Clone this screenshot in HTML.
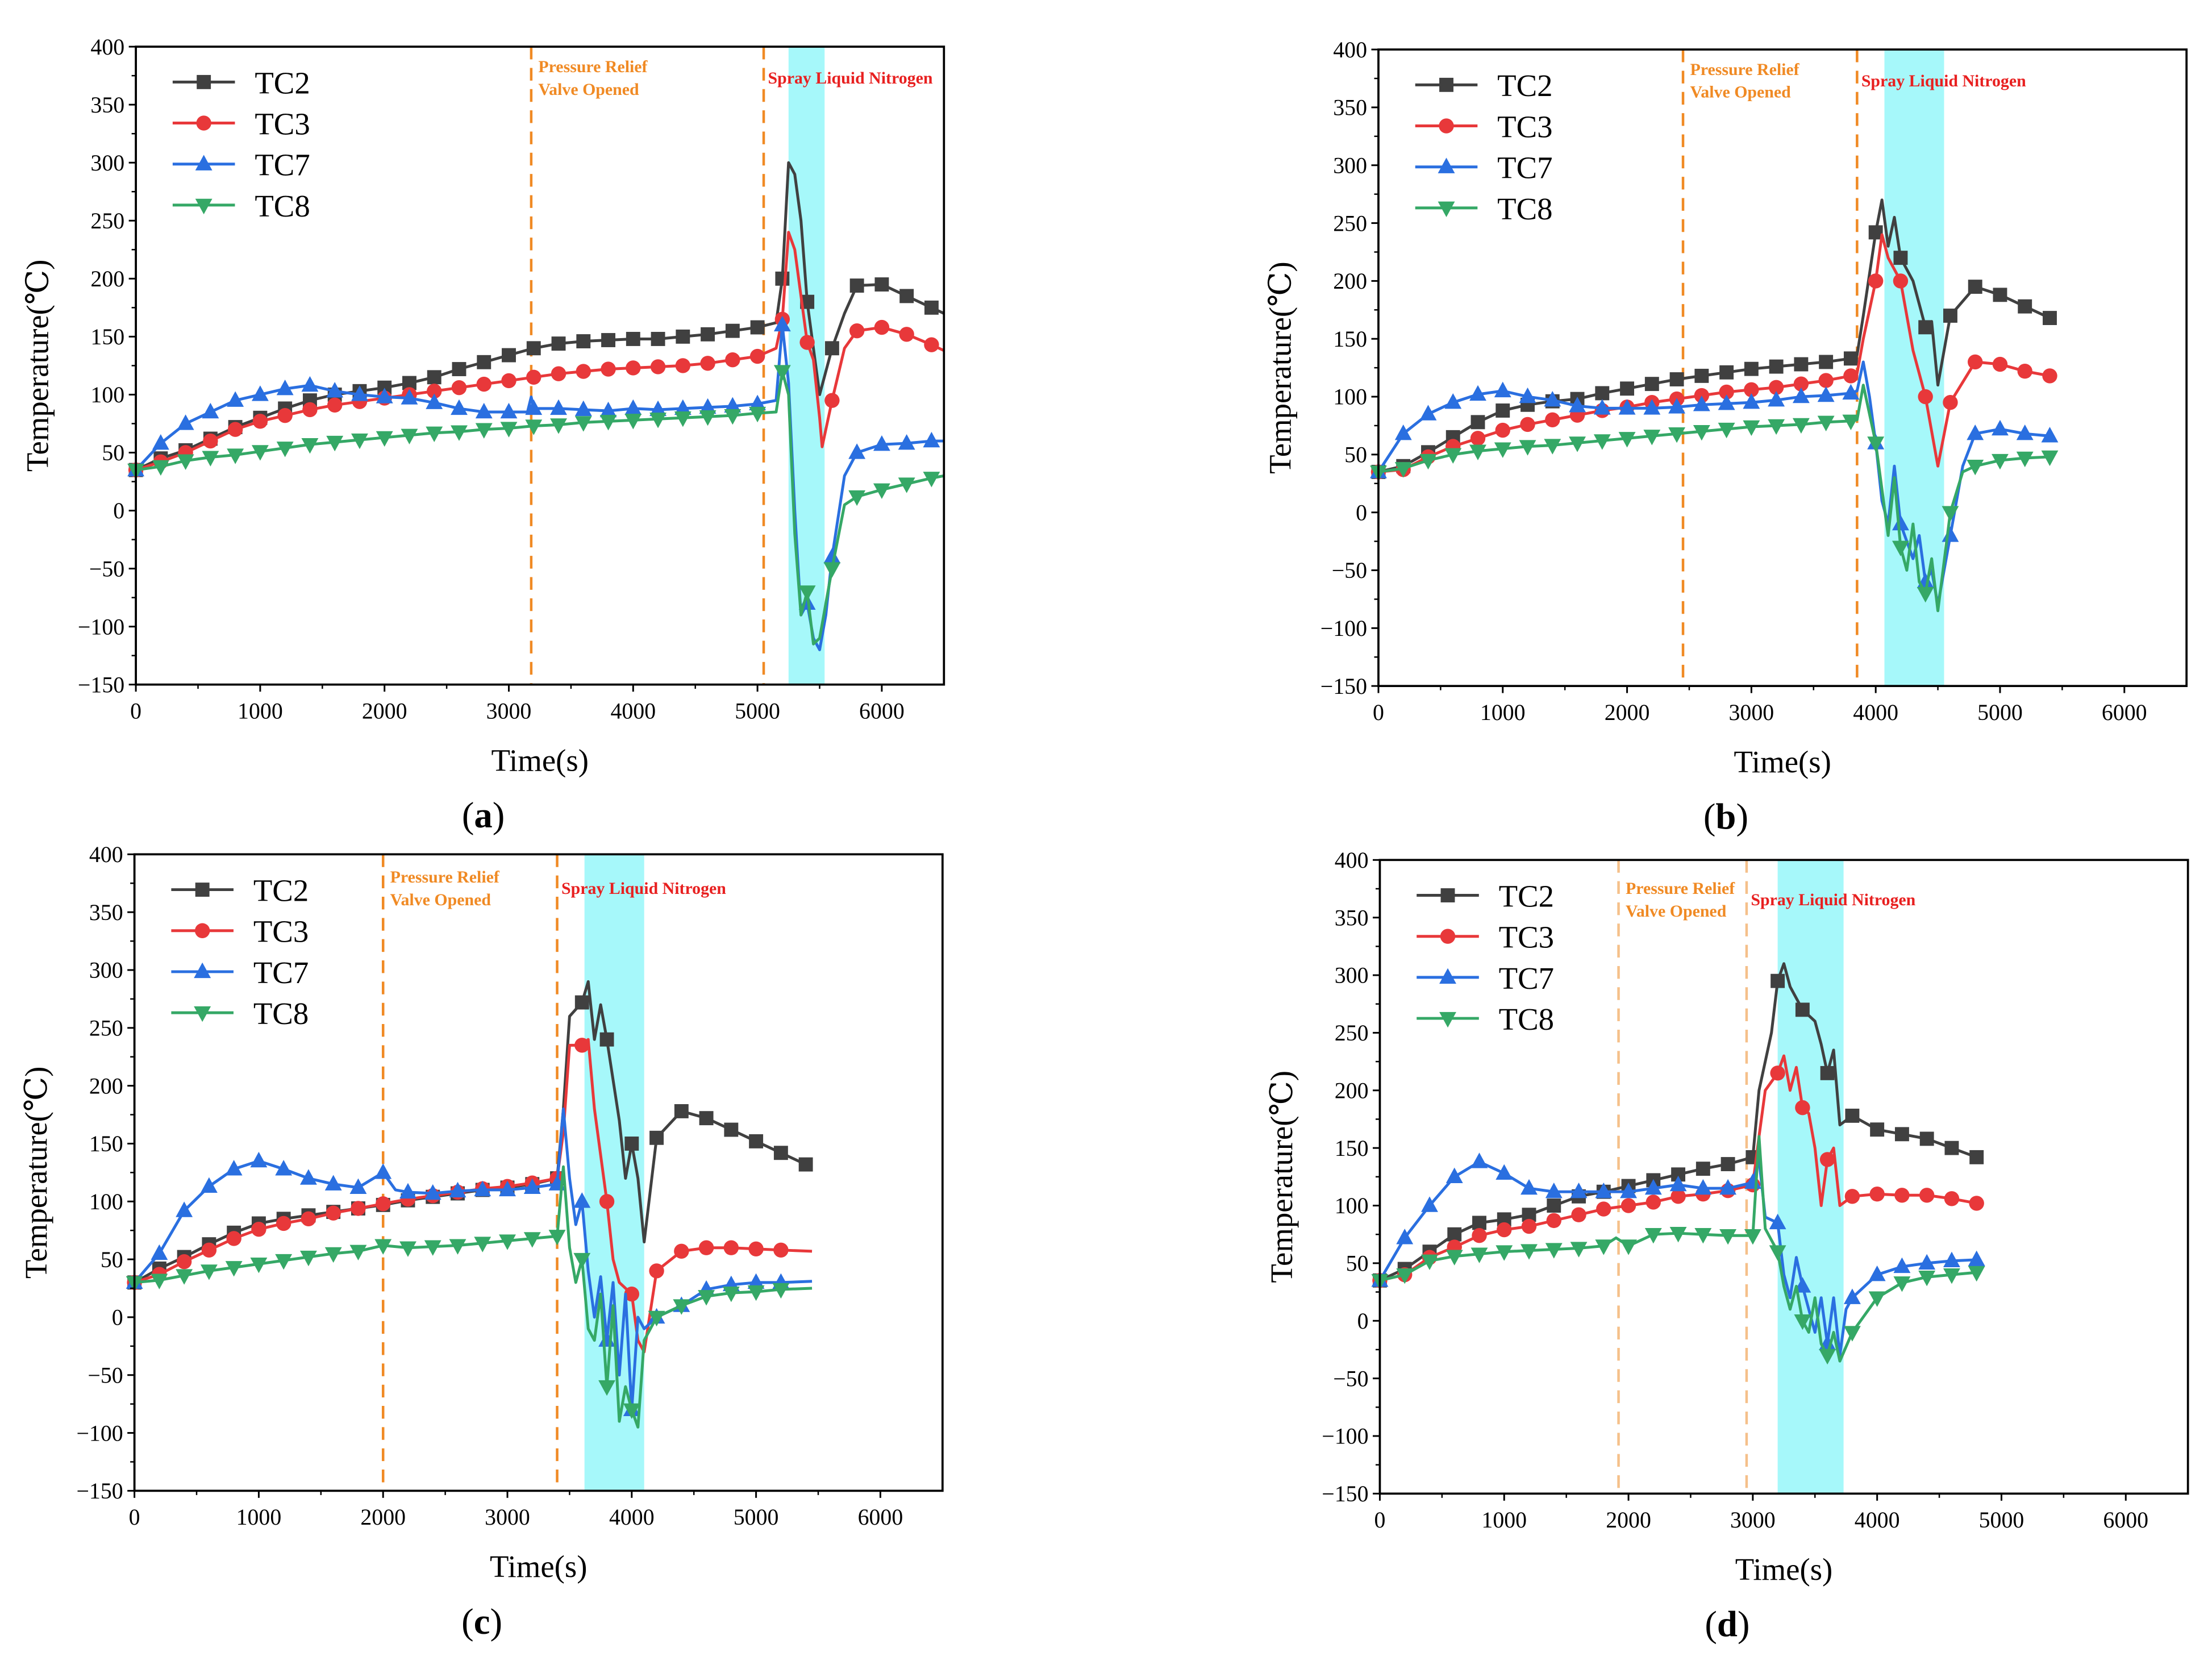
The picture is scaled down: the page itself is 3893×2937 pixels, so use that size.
<!DOCTYPE html>
<html><head><meta charset="utf-8"><style>
html,body{margin:0;padding:0;background:#fff;}
svg{display:block;}
svg text{font-family:"Liberation Serif","DejaVu Serif",serif;}
</style></head><body>
<svg id="fig" width="3893" height="2937" viewBox="0 0 1563 1180" preserveAspectRatio="none" xmlns="http://www.w3.org/2000/svg"></svg>
<script>
const seriesNames=["TC2","TC3","TC7","TC8"];
const xTicks=[0,1000,2000,3000,4000,5000,6000];
const yTicks=[-150,-100,-50,0,50,100,150,200,250,300,350,400];
// panel a
const aTC2=[[0,35],[200,45],[400,52],[600,62],[800,72],[1000,80],[1200,88],[1400,95],[1600,100],[1800,103],[2000,106],[2200,110],[2400,115],[2600,122],[2800,128],[3000,134],[3200,140],[3400,144],[3600,146],[3800,147],[4000,148],[4200,148],[4400,150],[4600,152],[4800,155],[5000,158],[5150,162],[5200,200],[5250,300],[5300,290],[5350,250],[5400,180],[5450,140],[5500,100],[5600,140],[5700,170],[5800,194],[6000,195],[6200,185],[6400,175],[6500,170]];
const aTC3=[[0,35],[200,42],[400,50],[600,60],[800,70],[1000,77],[1200,82],[1400,87],[1600,91],[1800,94],[2000,97],[2200,100],[2400,103],[2600,106],[2800,109],[3000,112],[3200,115],[3400,118],[3600,120],[3800,122],[4000,123],[4200,124],[4400,125],[4600,127],[4800,130],[5000,133],[5150,140],[5200,165],[5250,240],[5300,225],[5400,145],[5450,130],[5500,80],[5520,55],[5600,95],[5700,140],[5800,155],[6000,158],[6200,152],[6400,143],[6500,138]];
const aTC7=[[0,35],[200,58],[400,75],[600,85],[800,95],[1000,100],[1200,105],[1400,108],[1600,103],[1800,100],[2000,98],[2200,97],[2400,93],[2600,88],[2800,85],[3000,85],[3150,85],[3180,98],[3200,88],[3400,88],[3600,87],[3800,86],[4000,88],[4200,87],[4400,88],[4600,89],[4800,90],[5000,92],[5150,95],[5200,160],[5250,110],[5300,0],[5350,-90],[5400,-80],[5450,-110],[5500,-120],[5550,-90],[5600,-40],[5700,30],[5800,50],[6000,57],[6200,58],[6400,60],[6500,60]];
const aTC8=[[0,35],[200,38],[400,43],[600,46],[800,48],[1000,51],[1200,54],[1400,57],[1600,59],[1800,61],[2000,63],[2200,65],[2400,67],[2600,68],[2800,70],[3000,71],[3200,73],[3400,74],[3600,76],[3800,77],[4000,78],[4200,79],[4400,80],[4600,81],[4800,82],[5000,84],[5150,85],[5200,120],[5250,100],[5300,-20],[5350,-90],[5400,-70],[5450,-115],[5500,-110],[5600,-50],[5700,5],[5800,12],[6000,18],[6200,23],[6400,28],[6500,30]];
// panel b
const bTC2=[[0,35],[200,40],[400,52],[600,65],[800,78],[1000,88],[1200,93],[1400,96],[1600,98],[1800,103],[2000,107],[2200,111],[2400,115],[2600,118],[2800,121],[3000,124],[3200,126],[3400,128],[3600,130],[3800,133],[3850,136],[3900,170],[4000,242],[4050,270],[4100,230],[4150,255],[4200,220],[4300,200],[4400,160],[4450,165],[4500,110],[4600,170],[4800,195],[5000,188],[5200,178],[5400,168]];
const bTC3=[[0,35],[200,37],[400,48],[600,57],[800,64],[1000,71],[1200,76],[1400,80],[1600,84],[1800,88],[2000,91],[2200,95],[2400,98],[2600,101],[2800,104],[3000,106],[3200,108],[3400,111],[3600,114],[3800,118],[3850,120],[3900,150],[4000,200],[4050,240],[4100,220],[4200,200],[4300,140],[4400,100],[4500,40],[4600,95],[4800,130],[5000,128],[5200,122],[5400,118]];
const bTC7=[[0,35],[200,68],[400,85],[600,95],[800,102],[1000,105],[1200,100],[1400,97],[1600,92],[1800,90],[2000,90],[2200,90],[2400,91],[2600,93],[2800,94],[3000,95],[3200,97],[3400,100],[3600,101],[3800,103],[3850,105],[3900,130],[3950,100],[4000,60],[4050,10],[4100,-10],[4150,40],[4200,-10],[4300,-40],[4350,-20],[4400,-60],[4450,-50],[4500,-80],[4600,-20],[4700,40],[4800,68],[5000,72],[5200,68],[5400,66]];
const bTC8=[[0,35],[200,38],[400,45],[600,50],[800,53],[1000,55],[1200,57],[1400,58],[1600,60],[1800,62],[2000,64],[2200,66],[2400,68],[2600,70],[2800,72],[3000,74],[3200,75],[3400,76],[3600,78],[3800,79],[3850,80],[3900,110],[4000,60],[4050,20],[4100,-20],[4150,30],[4200,-30],[4250,-50],[4300,-10],[4350,-60],[4400,-70],[4450,-40],[4500,-85],[4600,0],[4700,35],[4800,40],[5000,45],[5200,47],[5400,48]];
// panel c
const cTC2=[[0,30],[200,42],[400,52],[600,63],[800,73],[1000,81],[1200,85],[1400,88],[1600,91],[1800,94],[2000,97],[2200,101],[2400,104],[2600,107],[2800,110],[3000,112],[3200,115],[3400,120],[3450,180],[3500,260],[3600,272],[3650,290],[3700,240],[3750,270],[3800,240],[3900,170],[3950,120],[4000,150],[4050,120],[4100,65],[4200,155],[4400,178],[4600,172],[4800,162],[5000,152],[5200,142],[5400,132],[5450,130]];
const cTC3=[[0,30],[200,37],[400,48],[600,58],[800,68],[1000,76],[1200,81],[1400,85],[1600,90],[1800,94],[2000,98],[2200,102],[2400,105],[2600,108],[2800,111],[3000,113],[3200,116],[3400,120],[3450,160],[3500,235],[3600,235],[3650,240],[3700,180],[3800,100],[3850,50],[3900,30],[4000,20],[4050,-20],[4100,-30],[4200,40],[4400,57],[4600,60],[4800,60],[5000,59],[5200,58],[5450,57]];
const cTC7=[[0,30],[200,55],[400,92],[600,113],[800,128],[1000,135],[1200,128],[1400,120],[1600,115],[1800,112],[2000,125],[2100,110],[2200,108],[2400,107],[2600,109],[2800,110],[3000,110],[3200,112],[3400,115],[3450,180],[3500,120],[3550,80],[3600,100],[3650,40],[3700,0],[3750,35],[3800,-20],[3850,30],[3900,-50],[3950,20],[4000,-80],[4050,0],[4100,-10],[4200,0],[4400,10],[4600,24],[4800,28],[5000,30],[5200,30],[5450,31]];
const cTC8=[[0,30],[200,32],[400,36],[600,40],[800,43],[1000,46],[1200,49],[1400,52],[1600,55],[1800,57],[2000,62],[2200,60],[2400,61],[2600,62],[2800,64],[3000,66],[3200,68],[3400,70],[3450,130],[3500,60],[3550,30],[3600,50],[3650,-10],[3700,-20],[3750,20],[3800,-60],[3850,10],[3900,-90],[3950,-60],[4000,-80],[4050,-95],[4100,-20],[4200,0],[4400,10],[4600,18],[4800,21],[5000,22],[5200,24],[5450,25]];
// panel d
const dTC2=[[0,35],[200,45],[400,60],[600,75],[800,85],[1000,88],[1200,92],[1400,100],[1600,108],[1800,112],[2000,117],[2200,122],[2400,127],[2600,132],[2800,136],[3000,142],[3050,200],[3150,250],[3200,295],[3250,310],[3300,290],[3400,270],[3500,260],[3550,240],[3600,215],[3650,235],[3700,170],[3800,178],[4000,166],[4200,162],[4400,158],[4600,150],[4800,142]];
const dTC3=[[0,35],[200,40],[400,55],[600,64],[800,74],[1000,79],[1200,82],[1400,87],[1600,92],[1800,97],[2000,100],[2200,103],[2400,108],[2600,110],[2800,113],[3000,118],[3050,160],[3100,200],[3200,215],[3250,230],[3300,200],[3350,220],[3400,185],[3450,180],[3500,150],[3550,100],[3600,140],[3650,150],[3700,100],[3800,108],[4000,110],[4200,109],[4400,109],[4600,106],[4800,102]];
const dTC7=[[0,35],[200,72],[400,100],[600,125],[800,138],[1000,128],[1200,115],[1400,112],[1600,112],[1800,112],[2000,112],[2200,115],[2400,118],[2600,115],[2800,115],[3000,120],[3050,140],[3100,90],[3200,85],[3250,40],[3300,20],[3350,55],[3400,30],[3450,10],[3500,-10],[3550,20],[3600,-20],[3650,20],[3700,-30],[3750,10],[3800,20],[4000,40],[4200,47],[4400,50],[4600,52],[4800,53]];
const dTC8=[[0,35],[200,40],[400,52],[600,56],[800,58],[1000,60],[1200,61],[1400,62],[1600,63],[1800,65],[1900,72],[2000,65],[2200,75],[2400,76],[2600,75],[2800,74],[3000,74],[3050,160],[3100,80],[3200,60],[3250,30],[3300,10],[3350,30],[3400,0],[3450,-10],[3500,20],[3550,-20],[3600,-30],[3650,-10],[3700,-35],[3800,-10],[4000,20],[4200,33],[4400,38],[4600,40],[4800,42]];
const aEvents=[3180,5050], bEvents=[2450,3850], cEvents=[2000,3400], dEvents=[1920,2950];
const aSpray=[5250,5540], bSpray=[4070,4550], cSpray=[3620,4100], dSpray=[3200,3730];

const NS="http://www.w3.org/2000/svg";
const svg=document.getElementById('fig');
const colors=["#404040","#e8383a","#2a6fe0","#35a866"];
const markers=["sq","ci","tu","td"];
const FONT='"Liberation Serif","DejaVu Serif",serif';
function mk(tag,attrs,parent){const e=document.createElementNS(NS,tag);for(const k in attrs)e.setAttribute(k,attrs[k]);if(tag==='text')e.setAttribute('font-family',FONT);(parent||svg).appendChild(e);return e;}
function marker(g,type,x,y,c,name){
  let e;
  if(type==="sq")e=mk('rect',{x:x-5,y:y-5,width:10,height:10,fill:c},g);
  else if(type==="ci")e=mk('circle',{cx:x,cy:y,r:5.3,fill:c},g);
  else if(type==="tu")e=mk('polygon',{points:`${x},${y-6.5} ${x+6},${y+4.5} ${x-6},${y+4.5}`,fill:c},g);
  else e=mk('polygon',{points:`${x},${y+6.5} ${x+6},${y-4.5} ${x-6},${y-4.5}`,fill:c},g);
  
  
}
function panel(id,L,T,W,H,series,events,spray,label,dashCol,annoY){
  const g=mk('g',{});
  
  
  const xs=t=>L+t/6500*W, ys=v=>T+(400-v)/550*H;
  const sp=mk('rect',{x:xs(spray[0]),y:T,width:xs(spray[1])-xs(spray[0]),height:H,fill:"#a6f8fa"},g);
  
  
  events.forEach((t,i)=>{const l=mk('line',{x1:xs(t),x2:xs(t),y1:T,y2:T+H,stroke:dashCol,'stroke-width':1.8,'stroke-dasharray':'9,6'},g);
    
    });
  const a1=mk('text',{x:xs(events[0])+5,y:T+annoY,'font-size':12,'font-weight':'bold',fill:'#f08a24'},g);a1.textContent="Pressure Relief";
  
  
  const a2=mk('text',{x:xs(events[0])+5,y:T+annoY+16,'font-size':12,'font-weight':'bold',fill:'#f08a24'},g);a2.textContent="Valve Opened";
  
  
  const a3=mk('text',{x:xs(events[1])+3,y:T+annoY+8,'font-size':12,'font-weight':'bold',fill:'#e82020'},g);a3.textContent="Spray Liquid Nitrogen";
  
  
  series.forEach((s,i)=>{
    const sg=mk('g',{},g);
    
    
    mk('polyline',{points:s.map(p=>xs(p[0])+','+ys(p[1])).join(' '),fill:'none',stroke:colors[i],'stroke-width':2,'stroke-linejoin':'round'},sg);
    s.forEach(p=>{if(p[0]%200===0)marker(sg,markers[i],xs(p[0]),ys(p[1]),colors[i],'point-'+seriesNames[i].toLowerCase());});
  });
  const fr=mk('rect',{x:L,y:T,width:W,height:H,fill:'none',stroke:'#000','stroke-width':1.5},g);
  
  
  xTicks.forEach(t=>{mk('line',{x1:xs(t),x2:xs(t),y1:T+H,y2:T+H+5,stroke:'#000','stroke-width':1.2},g);
    const tx=mk('text',{x:xs(t),y:T+H+24,'font-size':16,'text-anchor':'middle'},g);tx.textContent=t;
    
    });
  for(let t=500;t<6500;t+=1000)mk('line',{x1:xs(t),x2:xs(t),y1:T+H,y2:T+H+3,stroke:'#000','stroke-width':1},g);
  yTicks.forEach(v=>{mk('line',{x1:L-5,x2:L,y1:ys(v),y2:ys(v),stroke:'#000','stroke-width':1.2},g);
    const ty=mk('text',{x:L-8,y:ys(v)+5.5,'font-size':16,'text-anchor':'end'},g);ty.textContent=(v<0?'\u2212'+(-v):v);
    
    });
  for(let v=-125;v<400;v+=50)mk('line',{x1:L-3,x2:L,y1:ys(v),y2:ys(v),stroke:'#000','stroke-width':1},g);
  seriesNames.forEach((n,i)=>{
    const y=T+25+i*29, lx=L+26;
    const lg=mk('g',{},g);
    
    
    mk('line',{x1:lx,x2:lx+44,y1:y,y2:y,stroke:colors[i],'stroke-width':2},lg);
    marker(lg,markers[i],lx+22,y,colors[i],'legend-marker');
    const t=mk('text',{x:lx+58,y:y+8,'font-size':22},lg);t.textContent=n;
  });
  const yl=mk('text',{transform:`translate(${L-62},${T+H/2}) rotate(-90)`,'font-size':22,'text-anchor':'middle'},g);yl.textContent="Temperature(\u2103)";
  
  
  const xl=mk('text',{x:L+W/2,y:T+H+61,'font-size':22,'text-anchor':'middle'},g);xl.textContent="Time(s)";
  
  
  const pl=mk('text',{x:L+W/2-40,y:T+H+101,'font-size':26,'text-anchor':'middle'},g);
  pl.innerHTML=`(<tspan font-weight="bold">${label}</tspan>)`;
  
  
}
panel('a',96,33,571,451,[aTC2,aTC3,aTC7,aTC8],aEvents,aSpray,'a','#f08a24',18);
panel('b',974,35,571,450,[bTC2,bTC3,bTC7,bTC8],bEvents,bSpray,'b','#f08a24',18);
panel('c',95,604,571,450,[cTC2,cTC3,cTC7,cTC8],cEvents,cSpray,'c','#f08a24',20);
panel('d',975,608,571,448,[dTC2,dTC3,dTC7,dTC8],dEvents,dSpray,'d','#f5c08a',24);
</script>
</body></html>
